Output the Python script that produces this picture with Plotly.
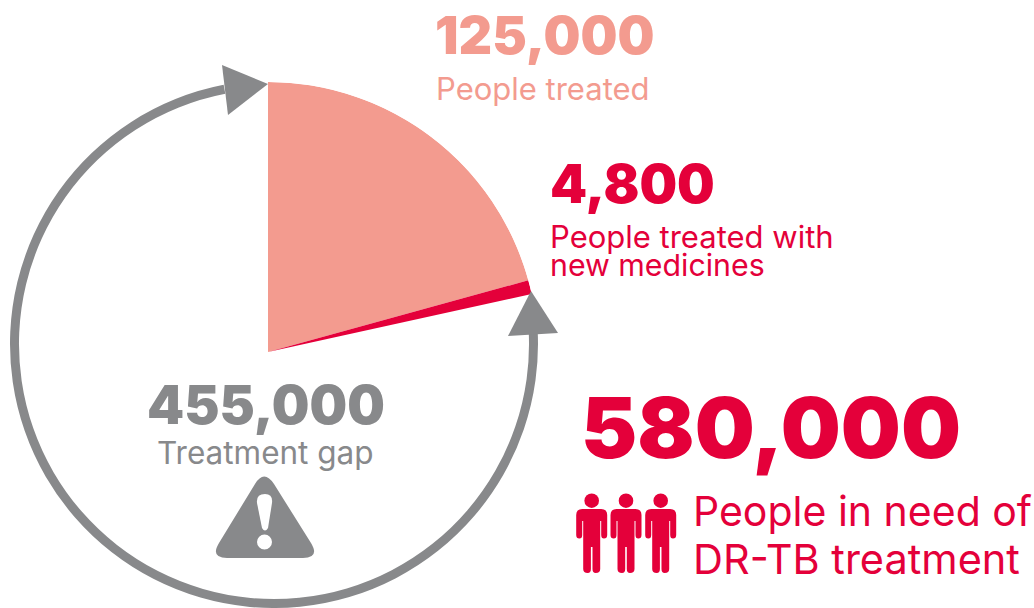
import plotly.graph_objects as go

# Data
segment_labels = ["People treated with existing medicines", "People treated with new medicines", "Treatment gap"]
segment_values = [120200, 4800, 455000]
total_need = 580000

PINK = "#F39B8F"
RED = "#E4003A"
GRAY = "#88898B"
W, H = 1034, 608
FONT = "Inter"


def px_x(x):
    return x / W


def px_y(y):
    return 1 - y / H


fig = go.Figure()

# Outer ring arc (rotated pie with thin hole)
ring_cx, ring_cy, ring_r = 274, 344, 264
fig.add_trace(go.Pie(
    values=[262, 98], sort=False, direction="clockwise", rotation=87, hole=0.966,
    marker=dict(colors=[GRAY, "rgba(0,0,0,0)"], line=dict(width=0)),
    textinfo="none", hoverinfo="skip", showlegend=False,
    domain=dict(x=[px_x(ring_cx - ring_r), px_x(ring_cx + ring_r)],
                y=[px_y(ring_cy + ring_r), px_y(ring_cy - ring_r)]),
))

# Sectors: drawn in a quarter polar subplot so the full radius fits in the canvas
R = 270
cum = 0
thetas, widths = [], []
for v in segment_values[:2]:
    a = 360 * v / total_need
    thetas.append(cum + a / 2)
    widths.append(a)
    cum += a
fig.add_trace(go.Barpolar(
    r=[1, 1], theta=thetas, width=widths, base=0, text=segment_labels[:2],
    marker=dict(color=[PINK, RED], line=dict(width=0)),
    hoverinfo="text", showlegend=False,
))

shapes = []
def path(d, color):
    shapes.append(dict(type="path", path=d, xref="x", yref="y", fillcolor=color,
                       line=dict(width=0), layer="above"))

def circle(cx, cy, rx, color, ry=None):
    ry = ry or rx
    shapes.append(dict(type="circle", xref="x", yref="y", x0=cx - rx, x1=cx + rx,
                       y0=cy - ry, y1=cy + ry, fillcolor=color, line=dict(width=0), layer="above"))

# arrowheads
path("M 222 65 L 268 84 L 228 115 Z", GRAY)
path("M 531 291 L 508 336 L 558 333 Z", GRAY)

# warning sign
path("M 255 484 Q 264 469 274 484 L 311 543 Q 320 558 303 558 L 227 558 Q 210 558 219 543 Z", GRAY)
path("M 257 503 Q 256 494 265 494 Q 273 494 272 503 L 268 528 Q 265 533 262 528 Z", "white")
circle(264.5, 542, 7.5, "white")

# people
for c in (591.7, 626, 660.7):
    circle(c, 500.7, 7.3, RED)
    path(f"M {c-15.5} 515 Q {c-15.5} 509 {c-9.5} 509 L {c+9.5} 509 Q {c+15.5} 509 {c+15.5} 515 "
         f"L {c+15.5} 535 Q {c+15.5} 538.5 {c+12.3} 538.5 Q {c+9.5} 538.5 {c+9.5} 535 L {c+9.5} 521 "
         f"L {c+8.5} 521 L {c+8.5} 569 Q {c+8.5} 573 {c+4} 573 Q {c+0.8} 573 {c+0.8} 569 L {c+0.8} 547 "
         f"L {c-0.8} 547 L {c-0.8} 569 Q {c-0.8} 573 {c-4} 573 Q {c-8.5} 573 {c-8.5} 569 L {c-8.5} 521 "
         f"L {c-9.5} 521 L {c-9.5} 535 Q {c-9.5} 538.5 {c-12.3} 538.5 Q {c-15.5} 538.5 {c-15.5} 535 Z", RED)

def label(text, x, y, size, color, weight=400, anchor="left"):
    return dict(text=text, x=x, y=y, xref="x", yref="y", xanchor=anchor, yanchor="middle",
                showarrow=False, font=dict(family=FONT, size=size, color=color, weight=weight))

annotations = [
    label("125,000", 433, 35, 52, PINK, 900),
    label("People treated", 434, 88, 31, PINK),
    label("4,800", 548, 184, 53, RED, 900),
    label("People treated with", 548, 236, 31, RED),
    label("new medicines", 548, 265, 30.3, RED),
    label("580,000", 579, 427, 84.5, RED, 900),
    label("People in need of", 691, 511, 41, RED),
    label("DR-TB treatment", 691, 559, 41.5, RED),
    label("455,000", 145, 405, 53, GRAY, 900),
    label("Treatment gap", 155, 452, 31.5, GRAY),
]

fig.update_layout(
    width=W, height=H, margin=dict(l=0, r=0, t=0, b=0),
    paper_bgcolor="white", plot_bgcolor="rgba(0,0,0,0)",
    xaxis=dict(range=[0, W], visible=False, domain=[0, 1], fixedrange=True),
    yaxis=dict(range=[H, 0], visible=False, domain=[0, 1], fixedrange=True),
    polar=dict(
        domain=dict(x=[px_x(268), px_x(268 + R)], y=[px_y(352), px_y(352 - R)]),
        sector=[0, 90],
        bgcolor="rgba(0,0,0,0)",
        radialaxis=dict(range=[0, 1], visible=False),
        angularaxis=dict(rotation=90, direction="clockwise", visible=False),
    ),
    shapes=shapes, annotations=annotations,
)
# invisible trace to activate the pixel-based cartesian axes
fig.add_trace(go.Scatter(x=[0, W], y=[0, H], mode="markers", marker=dict(opacity=0),
                         hoverinfo="skip", showlegend=False))
fig.write_html("out.html", config={"displayModeBar": False},
               post_script="document.body.style.margin='0';document.body.style.overflow='hidden';")
